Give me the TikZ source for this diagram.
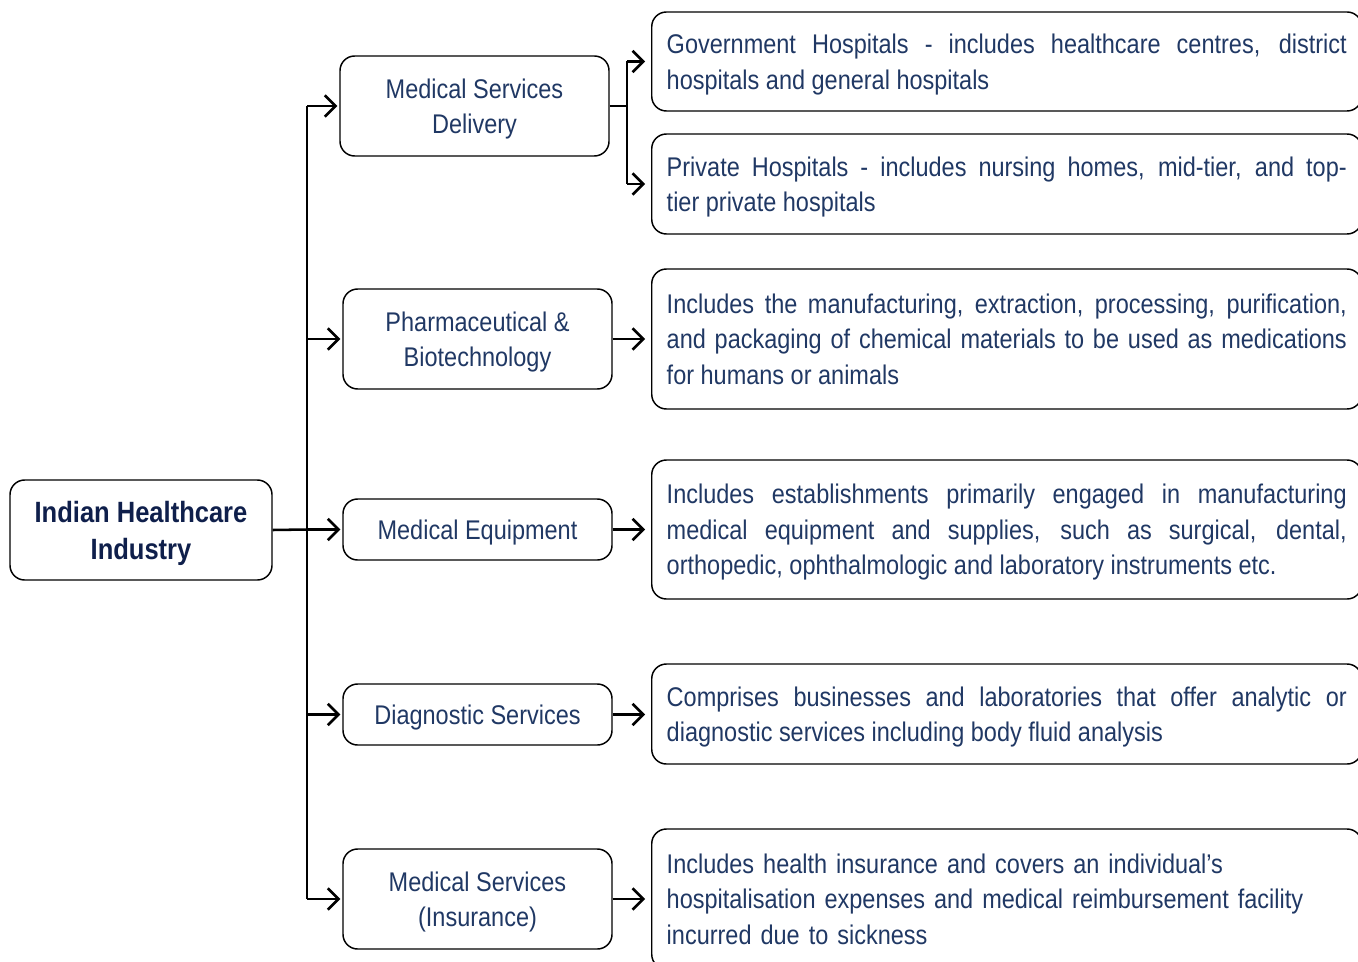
\documentclass[tikz,border=0pt]{standalone}
\usepackage{fontspec}
\setmainfont{Liberation Sans}[FakeStretch=0.87]
\usetikzlibrary{arrows.meta}
\definecolor{txt}{HTML}{203864}
\definecolor{txtb}{HTML}{0F1F4B}
\newcommand\tstr{\rule{0pt}{19pt}}
\newcommand\tstrb{\rule{0pt}{20.5pt}}
\begin{document}
\begin{tikzpicture}[x=0.75pt,y=-0.75pt,
  box/.style={draw=black,line width=1.1pt,rounded corners=11pt,inner sep=0pt,text=txt,
    font=\fontsize{20.25pt}{26.6pt}\selectfont},
  midbox/.style={box,minimum width=201.75pt,align=center},
  descbox/.style={box,anchor=west,inner xsep=11.25pt,text width=510pt,align=justify},
  rootbox/.style={box,minimum width=196.5pt,minimum height=75pt,align=center,text=txtb,
    font=\fontsize{22pt}{27.75pt}\selectfont\bfseries},
  line/.style={draw=black,line width=1.9pt},
  conn/.style={line,-{Straight Barb[length=8pt,width=16pt,line width=1.9pt]},shorten >=1.5pt},
  connr/.style={conn,shorten >=4.5pt}
]
\useasboundingbox (0,0) rectangle (1358,962);
\begin{scope}
\clip (0,0) rectangle (1358,962);
% root
\node[rootbox] (root) at (141,530) {\tstrb Indian Healthcare\\Industry};
% middle boxes
\node[midbox,minimum height=75pt] (msd) at (474.5,106) {\tstr Medical Services\\Delivery};
\node[midbox,minimum height=75pt] (pha) at (477.5,339) {\tstr Pharmaceutical \&\\Biotechnology};
\node[midbox,minimum height=45.75pt] (eq) at (477.5,529.5) {\tstr Medical Equipment};
\node[midbox,minimum height=45.75pt] (dia) at (477.5,714.5) {\tstr Diagnostic Services};
\node[midbox,minimum height=75pt] (ins) at (477.5,899) {\tstr Medical Services\\(Insurance)};
% description boxes
\node[descbox,minimum height=74.25pt] (gov) at (651,61.5) {\tstr Government Hospitals - includes healthcare centres, district\linebreak hospitals and general hospitals};
\node[descbox,minimum height=75pt] (pri) at (651,184) {\tstr Private Hospitals - includes nursing homes, mid-tier, and top-\linebreak tier private hospitals};
\node[descbox,minimum height=105pt] (phd) at (651,339) {Includes the manufacturing, extraction, processing, purification,\linebreak and packaging of chemical materials to be used as medications\linebreak for humans or animals};
\node[descbox,minimum height=104.25pt] (eqd) at (651,529.5) {\tstr Includes establishments primarily engaged in manufacturing\linebreak medical equipment and supplies, such as surgical, dental,\linebreak orthopedic, ophthalmologic and laboratory instruments etc.};
\node[descbox,minimum height=75pt] (did) at (651,714) {\tstr Comprises businesses and laboratories that offer analytic or\linebreak diagnostic services including body fluid analysis};
\node[descbox,minimum height=105pt,align=left] (insd) at (651,899) {Includes health insurance and covers an individual’s\\hospitalisation expenses and medical reimbursement facility\\incurred due to sickness};
% trunk
\coordinate (t) at (307,529.5);
\draw[line] (t |- msd.west) -- (t |- ins.west);
\draw[line] (root.east) -- (t);
\draw[conn] (t |- msd.west) -- (msd.west);
\draw[conn] (t |- pha.west) -- (pha.west);
\draw[conn] (t) -- (eq.west);
\draw[conn] (t |- dia.west) -- (dia.west);
\draw[conn] (t |- ins.west) -- (ins.west);
% fork
\coordinate (f) at (627,106);
\draw[line] (msd.east) -- (f);
\draw[line] (f |- gov.west) -- (f |- pri.west);
\draw[connr] (f |- gov.west) -- (gov.west);
\draw[connr] (f |- pri.west) -- (pri.west);
% right arrows
\draw[connr] (pha.east) -- (pha.east -| phd.west);
\draw[connr] (eq.east) -- (eq.east -| eqd.west);
\draw[connr] (dia.east) -- (dia.east -| did.west);
\draw[connr] (ins.east) -- (ins.east -| insd.west);
\end{scope}
\end{tikzpicture}
\end{document}
